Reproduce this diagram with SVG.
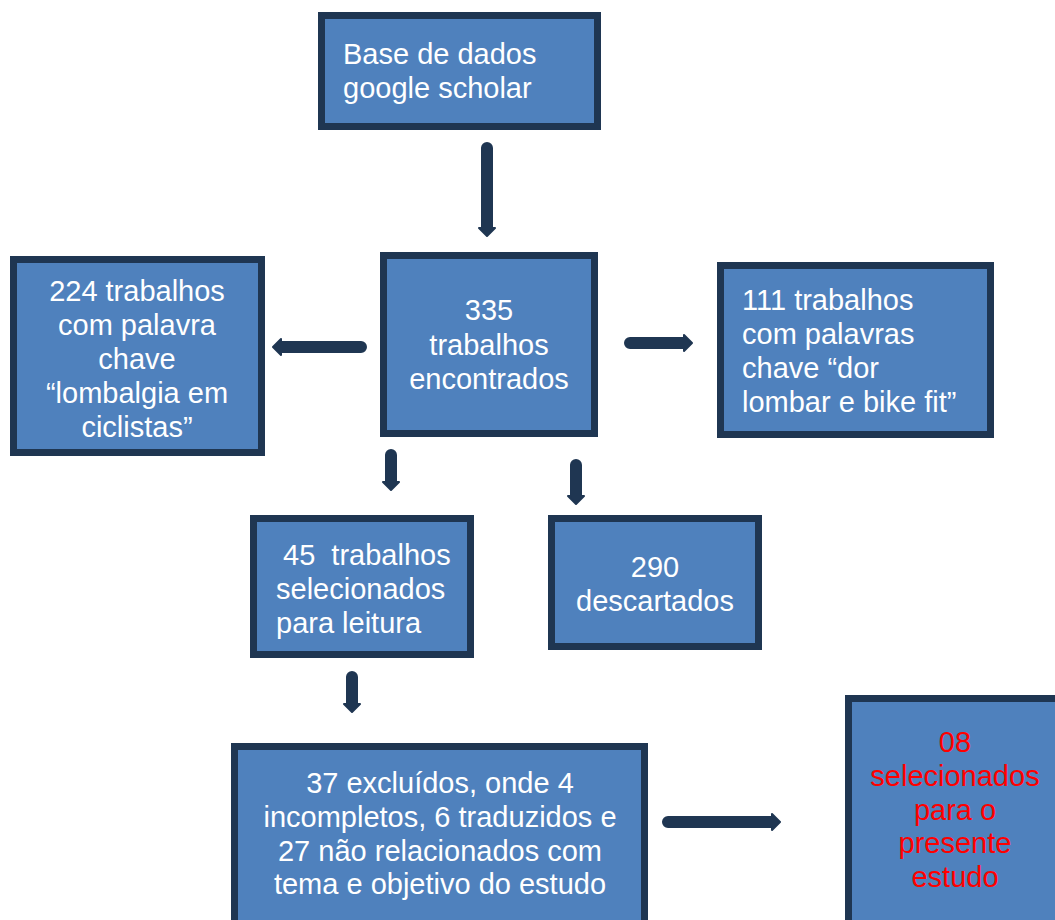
<svg xmlns="http://www.w3.org/2000/svg" width="1055" height="920" viewBox="0 0 1055 920">
  <style>
    .box { fill: #4f81bd; stroke: #1f3652; stroke-width: 7; }
    .lbl { font-family: "Liberation Sans", Arial, sans-serif; font-size: 29px; fill: #ffffff; }
    .mid { text-anchor: middle; }
    .red { fill: #ff0000; }
    .arrow { fill: #1f3652; stroke: #1f3652; stroke-width: 2; stroke-linejoin: round; }
  </style>
  <rect width="1055" height="920" fill="#ffffff"/>

  <g id="connectors">
    <!-- base -> 335 -->
    <path class="arrow" d="M482,228 L482,148 A5,5 0 0 1 492,148 L492,228 L495,228 L487,236 L479,228 Z"/>
    <!-- 335 -> 224 (left) -->
    <path class="arrow" d="M281,342 L361,342 A5,5 0 0 1 361,352 L281,352 L281,355 L273,347 L281,339 Z"/>
    <!-- 335 -> 111 (right) -->
    <path class="arrow" d="M684,338 L630,338 A5,5 0 0 0 630,348 L684,348 L684,351 L692,343 L684,335 Z"/>
    <!-- 335 -> 45 -->
    <path class="arrow" d="M386,482 L386,455 A5,5 0 0 1 396,455 L396,482 L399,482 L391,490 L383,482 Z"/>
    <!-- 335 -> 290 -->
    <path class="arrow" d="M571,496 L571,465 A5,5 0 0 1 581,465 L581,496 L584,496 L576,504 L568,496 Z"/>
    <!-- 45 -> 37 -->
    <path class="arrow" d="M347,704 L347,677 A5,5 0 0 1 357,677 L357,704 L360,704 L352,712 L344,704 Z"/>
    <!-- 37 -> 08 -->
    <path class="arrow" d="M772,817 L668,817 A5,5 0 0 0 668,827 L772,827 L772,830 L780,822 L772,814 Z"/>
  </g>

  <g id="base">
    <rect class="box" x="321.5" y="15.5" width="276" height="111"/>
    <text class="lbl" x="343" y="64">Base de dados</text>
    <text class="lbl" x="343" y="98">google scholar</text>
  </g>

  <g id="encontrados">
    <rect class="box" x="383.5" y="255.5" width="211" height="178"/>
    <text class="lbl mid" x="489" y="320">335</text>
    <text class="lbl mid" x="489" y="355">trabalhos</text>
    <text class="lbl mid" x="489" y="389">encontrados</text>
  </g>

  <g id="lombalgia">
    <rect class="box" x="13.5" y="259.5" width="248" height="193"/>
    <text class="lbl mid" x="137" y="301">224 trabalhos</text>
    <text class="lbl mid" x="137" y="335">com palavra</text>
    <text class="lbl mid" x="137" y="369">chave</text>
    <text class="lbl mid" x="137" y="403">“lombalgia em</text>
    <text class="lbl mid" x="137" y="437">ciclistas”</text>
  </g>

  <g id="bikefit">
    <rect class="box" x="720.5" y="265.5" width="270" height="169"/>
    <text class="lbl" x="742" y="310">111 trabalhos</text>
    <text class="lbl" x="742" y="344">com palavras</text>
    <text class="lbl" x="742" y="378">chave “dor</text>
    <text class="lbl" x="742" y="412">lombar e bike fit”</text>
  </g>

  <g id="selecionados-leitura">
    <rect class="box" x="253.5" y="518.5" width="217" height="136"/>
    <text class="lbl" x="283" y="565" xml:space="preserve">45  trabalhos</text>
    <text class="lbl" x="276" y="599">selecionados</text>
    <text class="lbl" x="276" y="633">para leitura</text>
  </g>

  <g id="descartados">
    <rect class="box" x="551.5" y="518.5" width="207" height="128"/>
    <text class="lbl mid" x="655" y="577">290</text>
    <text class="lbl mid" x="655" y="611">descartados</text>
  </g>

  <g id="excluidos">
    <rect class="box" x="234.5" y="746.5" width="410" height="190"/>
    <text class="lbl mid" x="440" y="793">37 excluídos, onde 4</text>
    <text class="lbl mid" x="440" y="827">incompletos, 6 traduzidos e</text>
    <text class="lbl mid" x="440" y="861">27 não relacionados com</text>
    <text class="lbl mid" x="440" y="894">tema e objetivo do estudo</text>
  </g>

  <g id="presente-estudo">
    <rect class="box" x="848.5" y="698.5" width="220" height="240"/>
    <text class="lbl mid red" x="955" y="752">08</text>
    <text class="lbl mid red" x="955" y="786">selecionados</text>
    <text class="lbl mid red" x="955" y="820">para o</text>
    <text class="lbl mid red" x="955" y="853">presente</text>
    <text class="lbl mid red" x="955" y="887">estudo</text>
  </g>
</svg>
